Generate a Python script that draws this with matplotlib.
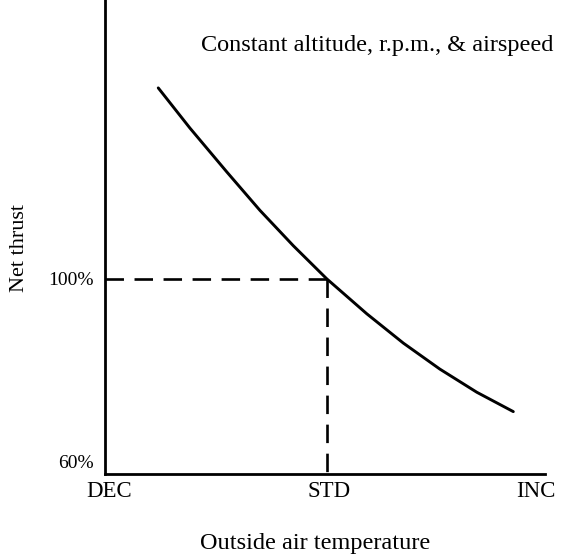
import matplotlib
matplotlib.use('Agg')
import matplotlib.pyplot as plt

plt.rcParams['font.family'] = ['Liberation Serif', 'DejaVu Serif']

# temperature scale runs 0..100 (arbitrary units), thrust in percent
temp = [12.1, 19.3, 27.7, 35.2, 42.8, 50.4, 59.5, 67.8, 76.1, 84.5, 92.8]
thrust = [140.4, 131.9, 122.6, 114.5, 107.0, 100.0, 92.6, 86.4, 80.9, 76.0, 71.9]

std_temp = 50.5
std_thrust = 100

xtick_pos = [1, 51, 98]
xtick_labels = ['DEC', 'STD', 'INC']
ytick_pos = [61.4, 100]
ytick_labels = ['60%', '100%']

fig = plt.figure(figsize=(5.63, 5.58), dpi=100)
ax = fig.add_axes([105/563, 84/558, 440/563, 474/558])

ax.plot(temp, thrust, color='black', lw=2.1, solid_capstyle='round',
        solid_joinstyle='round')
ax.plot([0, std_temp], [std_thrust, std_thrust], color='black', lw=1.9,
        dashes=(7, 4))
ax.plot([std_temp, std_temp], [std_thrust, 58.7], color='black', lw=1.9,
        dashes=(7, 4))

ax.set_xlim(0, 100)
ax.set_ylim(58.7, 159)
ax.spines['top'].set_visible(False)
ax.spines['right'].set_visible(False)
ax.spines['left'].set_linewidth(2)
ax.spines['bottom'].set_linewidth(2)

ax.set_xticks(xtick_pos)
ax.set_xticklabels(xtick_labels, fontsize=16.5)
ax.set_yticks(ytick_pos)
ax.set_yticklabels(ytick_labels, fontsize=14)
ax.tick_params(axis='x', length=0, pad=5)
ax.tick_params(axis='y', length=0, pad=8)

ax.text(1.02, 0.905, 'Constant altitude, r.p.m., & airspeed',
        transform=ax.transAxes, ha='right', va='center', fontsize=17.5)

fig.text(315/563, 1 - 543/558, 'Outside air temperature', ha='center',
         va='center', fontsize=17.5)
fig.text(20/563, 1 - 248/558, 'Net thrust', ha='center', va='center',
         rotation=90, fontsize=16)

fig.savefig('out.png', dpi=100)
